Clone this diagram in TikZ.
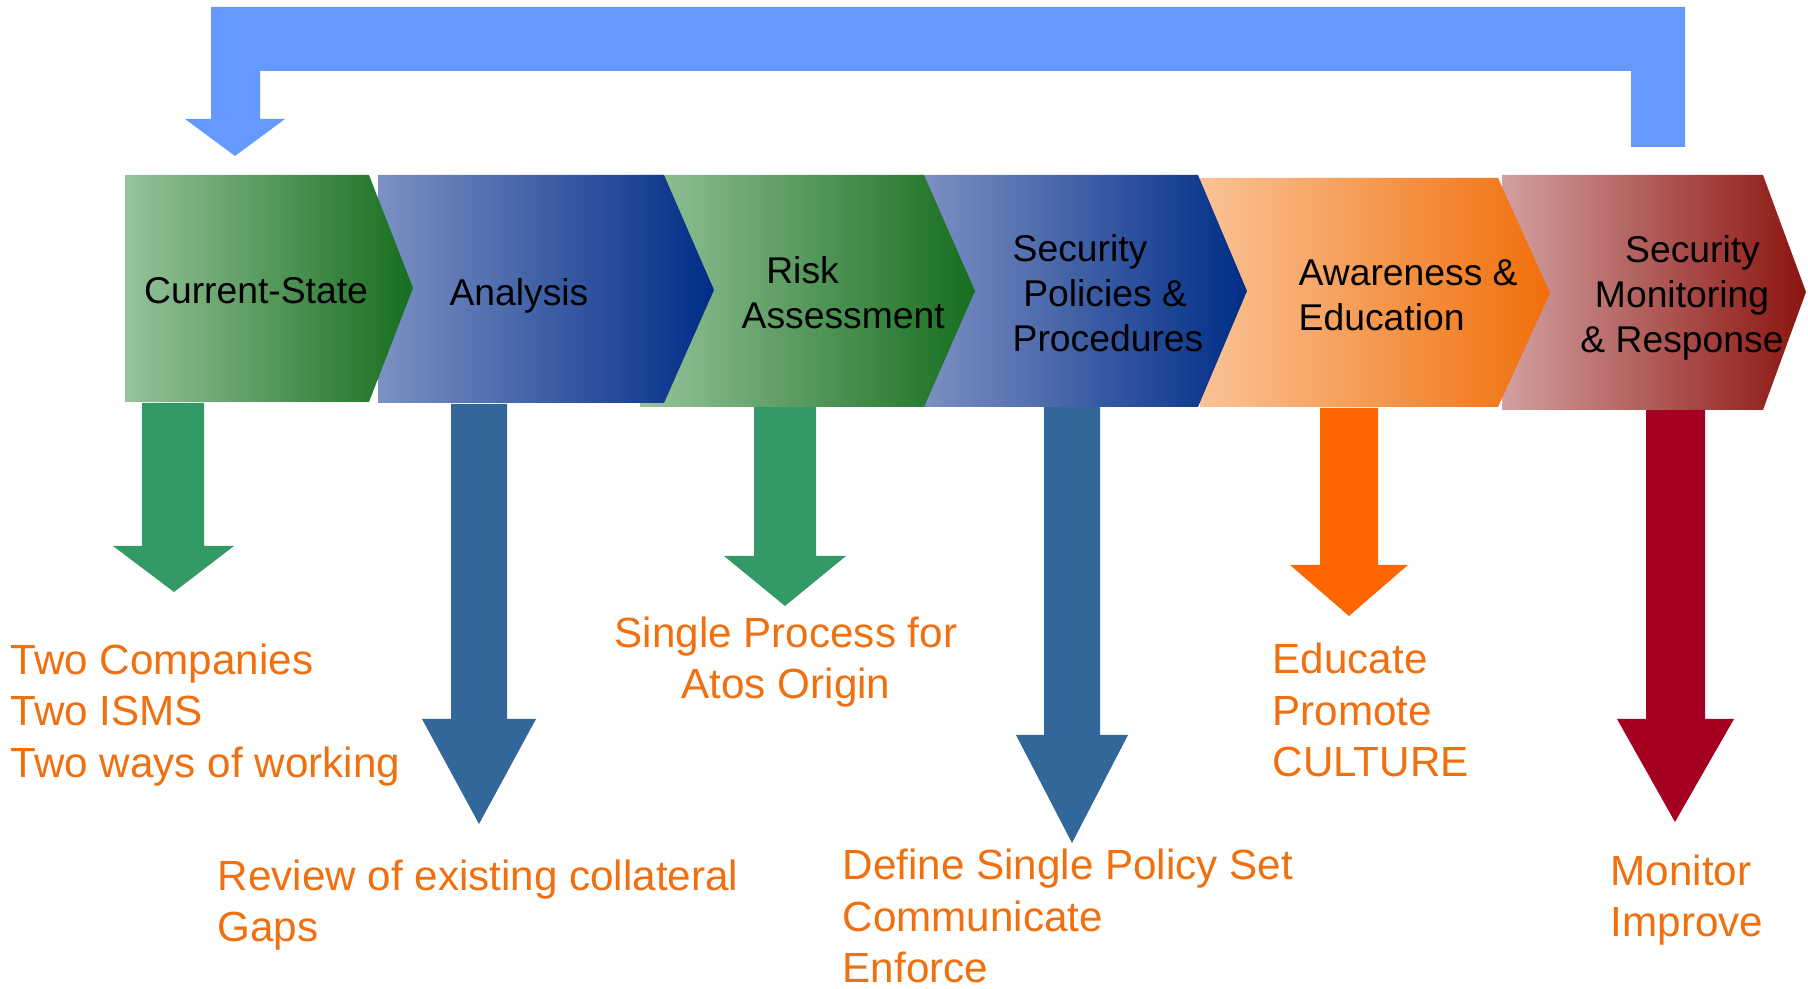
\documentclass[tikz,border=0pt]{standalone}
\usepackage{fontspec}
\setmainfont{Liberation Sans}

\definecolor{loopblue}{RGB}{102,153,255}
\definecolor{greenL}{RGB}{150,195,155}
\definecolor{greenR}{RGB}{22,110,30}
\definecolor{blueL}{RGB}{125,145,195}
\definecolor{blueR}{RGB}{0,45,135}
\definecolor{orangeL}{RGB}{250,195,150}
\definecolor{orangeR}{RGB}{240,110,10}
\definecolor{redL}{RGB}{210,160,160}
\definecolor{redR}{RGB}{140,20,15}
\definecolor{arrgreen}{RGB}{51,153,102}
\definecolor{arrblue}{RGB}{51,102,153}
\definecolor{arrorange}{RGB}{255,102,0}
\definecolor{arrred}{RGB}{165,0,33}
\definecolor{txtorange}{RGB}{240,112,16}

\tikzset{
	stepgreen/.style={left color=greenL, right color=greenR},
	stepblue/.style={left color=blueL, right color=blueR},
	steporange/.style={left color=orangeL, right color=orangeR},
	stepred/.style={left color=redL, right color=redR},
	steplabel/.style={inner sep=0pt, text=black, font=\fontsize{10.6}{12.8}\selectfont},
	goallabel/.style={inner sep=0pt, text=txtorange, align=left, font=\fontsize{12}{14.65}\selectfont}
}

\begin{document}
\begin{tikzpicture}[x=0.01cm, y=-0.01cm]
				\useasboundingbox (0,0) rectangle (1808,989);
				
				% feedback loop
				\fill[loopblue] (1631,147) -- (1685,147) -- (1685,7) -- (211,7) -- (211,119) -- (185,119) -- (235,156) -- (285,119) -- (260,119) -- (260,71) -- (1631,71) -- cycle;
				
				% down arrows
				\fill[arrgreen] (142,403) -- (204,403) -- (204,546) -- (234,546) -- (174,592) -- (113,546) -- (142,546) -- cycle;
				\fill[arrblue] (451,404) -- (507,404) -- (507,719) -- (536,719) -- (479,824) -- (422,719) -- (451,719) -- cycle;
				\fill[arrgreen] (754,407) -- (816,407) -- (816,556) -- (846,556) -- (785,606) -- (724,556) -- (754,556) -- cycle;
				\fill[arrblue] (1044,407) -- (1100,407) -- (1100,735) -- (1128,735) -- (1072,843) -- (1016,735) -- (1044,735) -- cycle;
				\fill[arrorange] (1320,408) -- (1378,408) -- (1378,565) -- (1408,565) -- (1349,616) -- (1290,565) -- (1320,565) -- cycle;
				\fill[arrred] (1646,410) -- (1705,410) -- (1705,719) -- (1734,719) -- (1675,822) -- (1617,719) -- (1646,719) -- cycle;
				
				% chevrons, right to left
				\shade[stepred] (1502,175) -- (1763,175) -- (1806,292) -- (1763,410) -- (1502,410) -- cycle;
				\shade[steporange] (1200,178) -- (1498,178) -- (1550,293) -- (1498,407) -- (1200,407) -- cycle;
				\shade[stepblue] (920,175) -- (1198,175) -- (1247,291) -- (1198,407) -- (920,407) -- cycle;
				\shade[stepgreen] (640,175) -- (924,175) -- (975,291) -- (924,407) -- (640,407) -- cycle;
				\shade[stepblue] (378,175) -- (664,175) -- (714,290) -- (664,403) -- (378,403) -- cycle;
				\shade[stepgreen] (125,175) -- (369,175) -- (413,288) -- (369,402) -- (125,402) -- cycle;
				
				\node[steplabel, anchor=center] (curstate) at (256,291) {Current-State};
				\node[steplabel, anchor=base] (analysis) at (519,306) {Analysis};
				\node[steplabel, align=left, anchor=west] (risk) at (741,293) {\hspace{7pt}Risk\\Assessment};
				\node[steplabel, align=left, anchor=west] (policies) at (1012,293) {Security\\\hspace{3pt}Policies \&\\Procedures};
				\node[steplabel, align=left, anchor=west] (awareness) at (1298,295) {Awareness \&\\Education};
				\node[steplabel, align=center, anchor=center] (monitoring) at (1682,298) {\hspace{6pt}Security\\Monitoring\\\& Response};
				
				\node[goallabel, anchor=west] (gcurrent) at (10,715) {Two Companies\\Two ISMS\\Two ways of working};
				\node[goallabel, anchor=west] (ganalysis) at (217,905) {Review of existing collateral\\Gaps};
				\node[goallabel, align=center, anchor=center] (grisk) at (786,662) {Single Process for\\Atos Origin};
				\node[goallabel, anchor=west] (gpolicies) at (842,916) {Define Single Policy Set\\Communicate\\Enforce};
				\node[goallabel, anchor=west] (gawareness) at (1272,710) {Educate\\Promote\\CULTURE};
				\node[goallabel, anchor=west] (gmonitoring) at (1610,900) {Monitor\\Improve};
			\end{tikzpicture}
\end{document}
